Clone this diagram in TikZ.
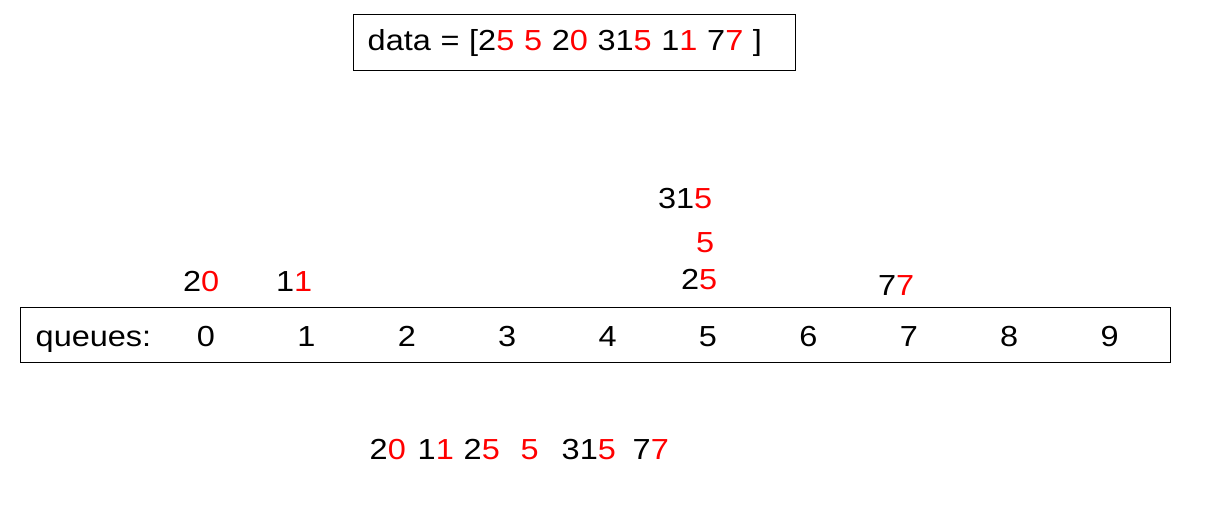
\documentclass[tikz,border=0pt]{standalone}
\usepackage{fontspec}
\setmainfont[FakeStretch=1.12]{Liberation Sans}
\newcommand{\rd}[1]{\textcolor{red}{#1}}
\begin{document}
\begin{tikzpicture}[x=0.5pt,y=-0.5pt,line width=.7pt,font=\fontsize{14.5}{17}\selectfont]
      \pgfmathsetmacro{\w}{100.4}
      \useasboundingbox (0,0) rectangle (1206,510);

      \node[draw,anchor=north west,minimum height=28pt,text width=207pt,inner xsep=7pt,inner ysep=0pt] (data) at (353,14) {data = [2\rd{5} \rd{5} 2\rd{0} 31\rd{5} 1\rd{1} 7\rd{7} ]};

      \node[draw,anchor=north west,minimum width=575pt,minimum height=27.5pt,inner sep=0pt] (queues) at (20,307) {};
      \node[anchor=base west,inner sep=0pt] (qlabel) at (35,346) {queues:};
      \foreach \i in {0,...,9}
        \node[anchor=base,inner sep=0pt] (q\i) at (206+\i*\w,346) {\i};

      \node[anchor=base east,inner sep=0pt] (s20) at (220,291) {2\rd{0}};
      \node[anchor=base east,inner sep=0pt] (s11) at (313,291) {1\rd{1}};
      \node[anchor=base east,inner sep=0pt] (s25) at (718,289) {2\rd{5}};
      \node[anchor=base east,inner sep=0pt] (s5) at (715,252) {\rd{5}};
      \node[anchor=base east,inner sep=0pt] (s315) at (713,208) {31\rd{5}};
      \node[anchor=base east,inner sep=0pt] (s77) at (915,295) {7\rd{7}};

      \foreach \x/\lbl [count=\k] in {369/2\rd{0},417/1\rd{1},463/2\rd{5},520/\rd{5},561/31\rd{5},632/7\rd{7}}
        \node[anchor=base west,inner sep=0pt] (o\k) at (\x,459) {\lbl};
    \end{tikzpicture}
\end{document}
